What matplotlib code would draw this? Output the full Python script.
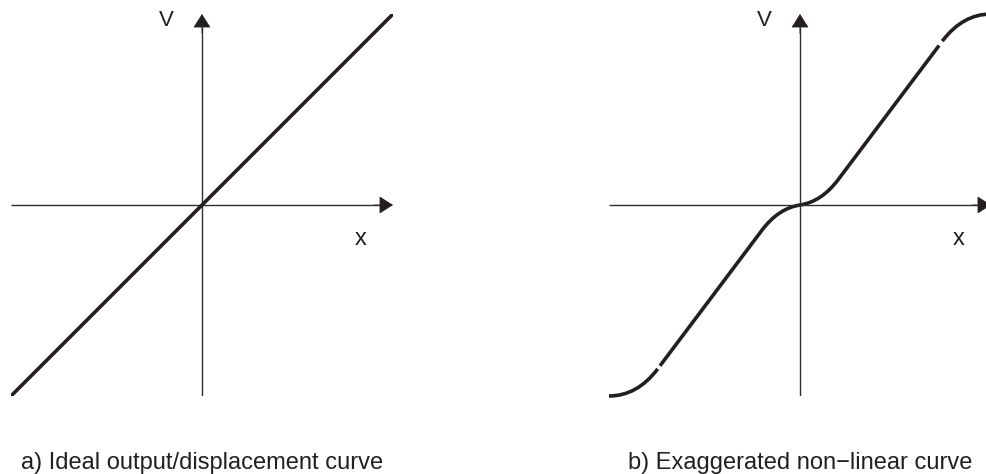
import matplotlib
matplotlib.use("Agg")
import matplotlib.pyplot as plt
from matplotlib.path import Path
from matplotlib.patches import PathPatch, FancyArrowPatch

plt.rcParams['font.family'] = ['Liberation Sans', 'DejaVu Sans']

# axis extent (both axes run from -1 to +1)
axis_min = -1.0
axis_max = 1.0

# a) ideal, straight output/displacement line
ideal_x = [-1.0, 1.0]
ideal_y = [-1.0, 1.0]

# b) exaggerated non-linear curve, drawn as three bezier pieces
# lower saturation arc
low_arc_x = [-1.0, -0.852, -0.745]
low_arc_y = [-1.0, -1.0, -0.858]
# linear part with the flat step through the origin
mid_x = [-0.733, -0.2, -0.113, 0.0, 0.113, 0.2, 0.728]
mid_y = [-0.842, -0.133, -0.017, 0.0, 0.017, 0.133, 0.835]
# upper saturation arc
up_arc_x = [0.745, 0.852, 1.0]
up_arc_y = [0.858, 1.0, 1.0]

captions = ["a) Ideal output/displacement curve",
            "b) Exaggerated non\u2212linear curve"]

curve_col = '#231f20'
axis_col = '#2e2e2e'

W, H = 986, 474
fig = plt.figure(figsize=(W / 100, H / 100), dpi=100)
fig.patch.set_facecolor('white')


def make_axes(left_px):
    # square axes, 382 px on a side, origin at the middle
    ax = fig.add_axes([left_px / W, (H - 396) / H, 382 / W, 382 / H])
    ax.set_xlim(axis_min, axis_max)
    ax.set_ylim(axis_min, axis_max)
    ax.axis('off')
    return ax


def draw_cross(ax):
    ax.plot([axis_min, 0.93], [0, 0], color=axis_col, lw=1.0, solid_capstyle='butt')
    ax.plot([0, 0], [axis_min, 0.93], color=axis_col, lw=1.0, solid_capstyle='butt')
    for end in [(axis_max, 0), (0, axis_max)]:
        start = (end[0] * 0.9, end[1] * 0.9)
        arr = FancyArrowPatch(start, end, arrowstyle='-|>,head_length=8.8,head_width=5.6',
                              mutation_scale=1, shrinkA=0, shrinkB=0,
                              color=curve_col, lw=0.6, clip_on=False)
        ax.add_patch(arr)
    ax.text(-0.185, 0.965, 'V', fontsize=16, color=curve_col,
            ha='center', va='center', clip_on=False)
    ax.text(0.83, -0.18, 'x', fontsize=17, color=curve_col,
            ha='center', va='center', clip_on=False)


def bezier(xs, ys, codes):
    return PathPatch(Path(list(zip(xs, ys)), codes), facecolor='none',
                     edgecolor=curve_col, lw=2.6, capstyle='butt',
                     joinstyle='round', clip_on=False)


# left panel
ax1 = make_axes(11)
draw_cross(ax1)
ax1.plot(ideal_x, ideal_y, color=curve_col, lw=2.6, solid_capstyle='round')
ax1.text(0, -1.38, captions[0], fontsize=17, color=curve_col,
         ha='center', va='baseline', clip_on=False)

# right panel (runs past the right edge of the figure)
ax2 = make_axes(609)
draw_cross(ax2)
M, L, C3 = Path.MOVETO, Path.LINETO, Path.CURVE3
ax2.add_patch(bezier(low_arc_x, low_arc_y, [M, C3, C3]))
ax2.add_patch(bezier(mid_x, mid_y, [M, L, C3, C3, C3, C3, L]))
ax2.add_patch(bezier(up_arc_x, up_arc_y, [M, C3, C3]))
ax2.text(0, -1.38, captions[1], fontsize=17, color=curve_col,
         ha='center', va='baseline', clip_on=False)

fig.savefig('out.png', dpi=100, facecolor='white')
